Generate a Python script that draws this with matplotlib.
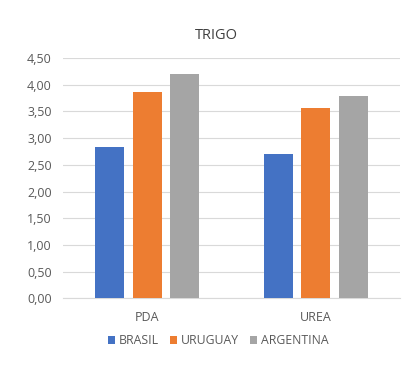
import numpy as np
from matplotlib import pyplot as plt

plt.rcParams['font.family'] = ['Open Sans', 'DejaVu Sans']

categories = ['PDA', 'UREA']
series = ['BRASIL', 'URUGUAY', 'ARGENTINA']
brasil = [2.83, 2.71]
uruguay = [3.86, 3.57]
argentina = [4.20, 3.79]
colors = ['#4472C4', '#ED7D31', '#A5A5A5']

fig = plt.figure(figsize=(4.2, 3.73), dpi=100)
ax = fig.add_axes([0.15, 0.2, 0.802, 0.6445])

x = np.arange(len(categories))
w = 0.172
step = 0.223
for i, (name, vals) in enumerate(zip(series, [brasil, uruguay, argentina])):
    ax.bar(x + (i - 1) * step, vals, w, color=colors[i], label=name, zorder=3)

ax.set_xlim(-0.5, 1.5)
ax.set_ylim(0, 4.5)
ax.set_yticks(np.arange(0, 4.51, 0.5))
ax.set_yticklabels([f'{v:.2f}'.replace('.', ',') for v in np.arange(0, 4.51, 0.5)])
ax.set_xticks(x)
ax.set_xticklabels(categories)
ax.grid(axis='y', color='#D9D9D9', linewidth=0.8, zorder=0)
for s in ['top', 'right', 'left']:
    ax.spines[s].set_visible(False)
ax.spines['bottom'].set_color('#D9D9D9')
ax.tick_params(axis='both', length=0, labelsize=9, colors='#595959')
ax.tick_params(axis='y', pad=8)
ax.tick_params(axis='x', pad=9)

fig.text(0.514, 0.906, 'TRIGO', ha='center', va='center', fontsize=10.5, color='#404040')

fig.legend(*ax.get_legend_handles_labels(), loc='center', bbox_to_anchor=(0.519, 0.087),
           ncol=3, frameon=False, fontsize=8.8, handlelength=0.6, handleheight=0.6,
           handletextpad=0.3, columnspacing=0.9, labelcolor='#595959')

plt.savefig('out.png', dpi=100)
